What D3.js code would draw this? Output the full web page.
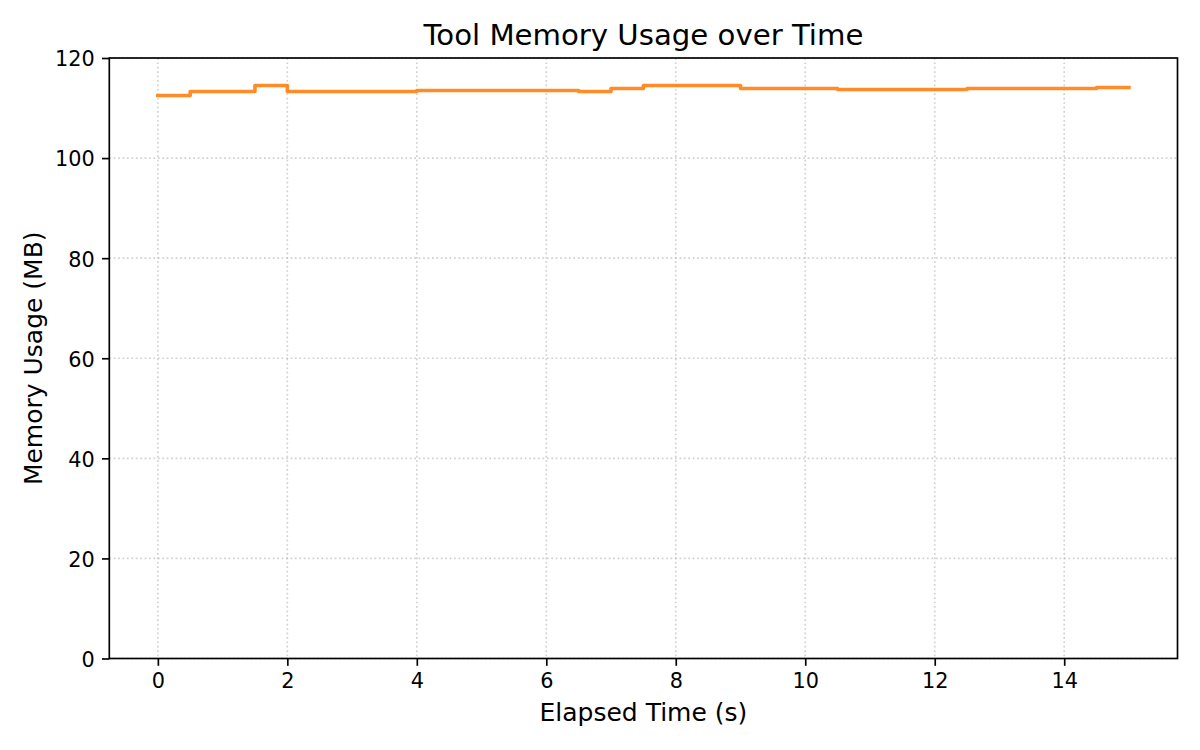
<!DOCTYPE html>
<html>
<head>
<meta charset="utf-8">
<script src="https://cdn.jsdelivr.net/npm/d3@7"></script>
<style>
  html, body { margin: 0; padding: 0; background: #fff; }
  svg { display: block; font-family: "DejaVu Sans", sans-serif; }
</style>
</head>
<body>
<svg id="chart" width="1200" height="750"></svg>
<script>
const times = [0, 0.5, 1.0, 1.5, 2.0, 2.5, 3.0, 3.5, 4.0, 4.5, 5.0, 5.5, 6.0, 6.5, 7.0, 7.5,
               8.0, 8.5, 9.0, 9.5, 10.0, 10.5, 11.0, 11.5, 12.0, 12.5, 13.0, 13.5, 14.0, 14.5, 15.0];
const memory = [112.5, 113.3, 113.3, 114.5, 113.3, 113.3, 113.3, 113.3, 113.5, 113.5, 113.5, 113.5, 113.5, 113.3, 113.9, 114.5,
                114.5, 114.5, 113.9, 113.9, 113.9, 113.7, 113.7, 113.7, 113.7, 113.9, 113.9, 113.9, 113.9, 114.1, 114.1];
const xTicks = [0, 2, 4, 6, 8, 10, 12, 14];
const yTicks = [0, 20, 40, 60, 80, 100, 120];
const titleText = "Tool Memory Usage over Time";
const xLabel = "Elapsed Time (s)";
const yLabel = "Memory Usage (MB)";

const svg = d3.select("#chart");
const L = 109.3, R = 1177.5, T = 58, B = 658.5;

const x = d3.scaleLinear().domain([-0.75, 15.75]).range([L, R]);
const y = d3.scaleLinear().domain([0, 120]).range([B, T]);

const data = times.map((t, i) => ({ t, m: memory[i] }));

// Grid
const grid = svg.append("g");
grid.selectAll("line.gx").data(xTicks).enter().append("line")
  .attr("x1", d => x(d)).attr("x2", d => x(d)).attr("y1", T).attr("y2", B)
  .attr("stroke", "#b0b0b0").attr("stroke-opacity", 0.6)
  .attr("stroke-width", 1.67).attr("stroke-dasharray", "1.67,2.75");
grid.selectAll("line.gy").data(yTicks).enter().append("line")
  .attr("x1", L).attr("x2", R).attr("y1", d => y(d)).attr("y2", d => y(d))
  .attr("stroke", "#b0b0b0").attr("stroke-opacity", 0.6)
  .attr("stroke-width", 1.67).attr("stroke-dasharray", "1.67,2.75");

// Line
const line = d3.line().x(d => x(d.t)).y(d => y(d.m)).curve(d3.curveStepAfter);
svg.append("path").datum(data)
  .attr("d", line)
  .attr("fill", "none")
  .attr("stroke", "#ff7f0e").attr("stroke-opacity", 0.9)
  .attr("stroke-width", 3.6)
  .attr("stroke-linecap", "square")
  .attr("stroke-linejoin", "round");

// Axes
const xAxis = d3.axisBottom(x).tickValues(xTicks).tickSize(7.3).tickPadding(7.3).tickFormat(d3.format("d"));
const yAxis = d3.axisLeft(y).tickValues(yTicks).tickSize(7.3).tickPadding(7.3).tickFormat(d3.format("d"));

const gx = svg.append("g").attr("transform", `translate(0,${B})`).call(xAxis);
const gy = svg.append("g").attr("transform", `translate(${L},0)`).call(yAxis);
[gx, gy].forEach(g => {
  g.select(".domain").remove();
  g.selectAll(".tick line").attr("stroke", "#000").attr("stroke-width", 1.67);
  g.selectAll(".tick text").attr("fill", "#000")
    .style("font-family", "'DejaVu Sans', sans-serif").style("font-size", "20.8px");
});
gx.selectAll(".tick text").attr("dy", "0.73em");
gy.selectAll(".tick text").attr("dy", "0.38em");

// Frame
svg.append("rect")
  .attr("x", L).attr("y", T).attr("width", R - L).attr("height", B - T)
  .attr("fill", "none").attr("stroke", "#000").attr("stroke-width", 1.67);

// Title & labels
svg.append("text").attr("x", (L + R) / 2).attr("y", 45)
  .attr("text-anchor", "middle").style("font-size", "29.2px").attr("fill", "#000")
  .text(titleText);
svg.append("text").attr("x", (L + R) / 2).attr("y", 721)
  .attr("text-anchor", "middle").style("font-size", "25px").attr("fill", "#000")
  .text(xLabel);
svg.append("text").attr("transform", `translate(41.7,${(T + B) / 2}) rotate(-90)`)
  .attr("text-anchor", "middle").style("font-size", "25px").attr("fill", "#000")
  .text(yLabel);
</script>
</body>
</html>
